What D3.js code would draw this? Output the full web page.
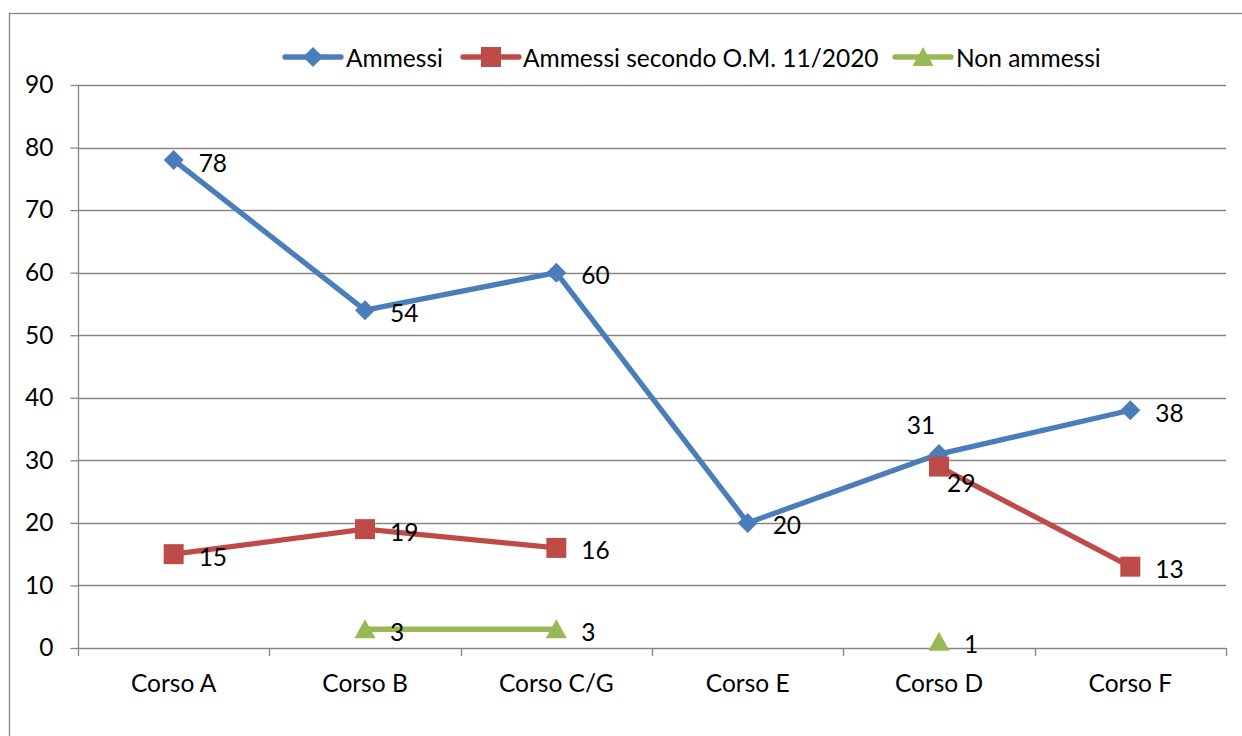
<!DOCTYPE html>
<html><head><meta charset="utf-8">
<script src="https://cdn.jsdelivr.net/npm/d3@7"></script>
<style>
html,body{margin:0;padding:0;background:#fff;}
svg{display:block;font-family:Lato,"Open Sans",sans-serif;}
</style></head>
<body>
<svg id="chart" width="1242" height="736"></svg>
<script>
const categories = ["Corso A","Corso B","Corso C/G","Corso E","Corso D","Corso F"];
const ammessi = [78,54,60,20,31,38];
const ammessiOM = [15,19,16,null,29,13];
const nonAmmessi = [null,3,3,null,1,null];
const yTicks = [0,10,20,30,40,50,60,70,80,90];
const seriesNames = ["Ammessi","Ammessi secondo O.M. 11/2020","Non ammessi"];

const svg = d3.select("#chart");
const m = {left:78, right:1226, top:85, bottom:648};
const fs = 24.5;

// outer border
svg.append("rect").attr("x",9.5).attr("y",13.5).attr("width",1250).attr("height",740)
  .attr("fill","none").attr("stroke","#868686").attr("stroke-width",1.3);

const x = d3.scaleBand().domain(categories).range([m.left,m.right]).padding(0);
const y = d3.scaleLinear().domain([0,90]).range([m.bottom,m.top]);
const cx = c => x(c) + x.bandwidth()/2;

// gridlines
svg.append("g").selectAll("line").data(yTicks.filter(t=>t>0)).join("line")
  .attr("x1",m.left).attr("x2",m.right)
  .attr("y1",d=>Math.round(y(d))+0.5).attr("y2",d=>Math.round(y(d))+0.5)
  .attr("stroke","#868686").attr("stroke-width",1.3);

// y axis
const yAxis = svg.append("g").attr("transform",`translate(${m.left+0.5},0)`)
  .call(d3.axisLeft(y).tickValues(yTicks).tickSize(8).tickPadding(17).tickFormat(d3.format("d")));
yAxis.select(".domain").attr("stroke","#868686").attr("stroke-width",1.3).attr("d",`M0,${m.top}V${m.bottom}`);
yAxis.selectAll(".tick line").attr("stroke","#868686").attr("stroke-width",1.3);
yAxis.selectAll(".tick text").attr("font-size",fs).attr("fill","#000").attr("font-family","Lato");

// x axis
const xAxis = svg.append("g").attr("transform",`translate(0,${Math.round(m.bottom)+0.5})`)
  .call(d3.axisBottom(x).tickSize(0).tickPadding(26));
xAxis.select(".domain").attr("stroke","#868686").attr("stroke-width",1.3).attr("d",`M${m.left},0H${m.right}`);
xAxis.selectAll(".tick text").attr("font-size",fs).attr("fill","#000").attr("font-family","Lato");
// category boundary ticks
const bounds = categories.map(c=>x(c)).concat([m.right]);
svg.append("g").selectAll("line").data(bounds).join("line")
  .attr("x1",d=>Math.round(d)+0.5).attr("x2",d=>Math.round(d)+0.5)
  .attr("y1",m.bottom).attr("y2",m.bottom+8)
  .attr("stroke","#868686").attr("stroke-width",1.3);

const series = [
  {name:seriesNames[0], values:ammessi, color:"#4A7EBB", marker:"diamond"},
  {name:seriesNames[1], values:ammessiOM, color:"#BE4B48", marker:"square"},
  {name:seriesNames[2], values:nonAmmessi, color:"#98B954", marker:"triangle"}
];

function markerPath(type){
  if(type==="diamond") return "M0,-10L10,0L0,10L-10,0Z";
  if(type==="square") return "M-10,-10H10V10H-10Z";
  return "M0,-10L10.5,9H-10.5Z";
}

const line = d3.line().defined(d=>d.v!==null).x(d=>cx(d.c)).y(d=>y(d.v));

series.forEach(s=>{
  const pts = categories.map((c,i)=>({c, v:s.values[i]}));
  svg.append("path").datum(pts).attr("d",line).attr("fill","none")
    .attr("stroke",s.color).attr("stroke-width",5.3).attr("stroke-linejoin","round").attr("stroke-linecap","round");
  svg.append("g").selectAll("path").data(pts.filter(d=>d.v!==null)).join("path")
    .attr("transform",d=>`translate(${cx(d.c)},${y(d.v)})`)
    .attr("d",markerPath(s.marker)).attr("fill",s.color);
});

// data labels
series.forEach((s,si)=>{
  categories.forEach((c,i)=>{
    const v = s.values[i];
    if(v===null) return;
    let lx = cx(c)+25, ly = y(v)+2, anchor="start";
    if(si===0 && c==="Corso D"){ lx = cx(c)-18; ly = y(v)-30; anchor="middle"; }
    if(si===1 && c==="Corso D"){ lx = cx(c)+8; ly = y(v)+16; }
    svg.append("text").attr("x",lx).attr("y",ly).attr("text-anchor",anchor)
      .attr("dominant-baseline","central").attr("font-size",fs).attr("fill","#000").text(v);
  });
});

// legend
const legendItems = [
  {x0:285, tx:346},
  {x0:463, tx:523},
  {x0:895, tx:956}
];
const ly = 57;
const legLen = 56;
series.forEach((s,i)=>{
  const L = legendItems[i];
  const g = svg.append("g");
  g.append("line").attr("x1",L.x0).attr("x2",L.x0+legLen).attr("y1",ly).attr("y2",ly)
    .attr("stroke",s.color).attr("stroke-width",5.3).attr("stroke-linecap","round");
  g.append("path").attr("transform",`translate(${L.x0+legLen/2},${ly})`).attr("d",markerPath(s.marker)).attr("fill",s.color);
  g.append("text").attr("x",L.tx).attr("y",ly).attr("dominant-baseline","central")
    .attr("font-size",fs).attr("fill","#000").text(s.name);
});
</script>
</body></html>
